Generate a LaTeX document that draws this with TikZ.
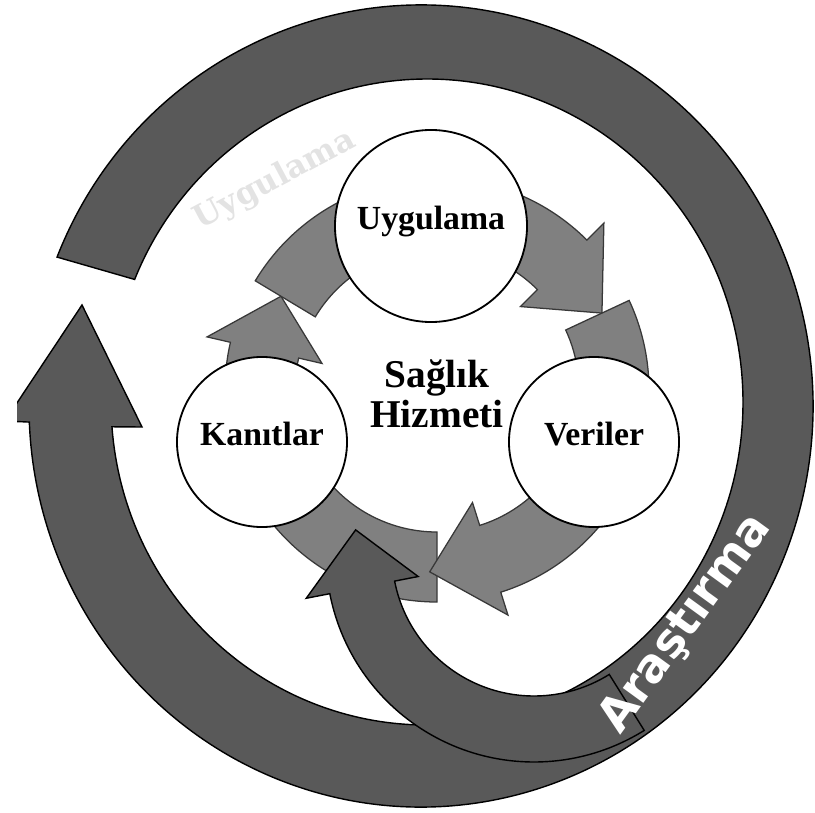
\documentclass[tikz,border=0pt]{standalone}
\usepackage{fontspec}
\setmainfont{Liberation Serif}
\newfontfamily\bandfont{DejaVu Sans}
\newfontfamily\ghostfont{DejaVu Serif}
\usepackage{xcolor}
\usetikzlibrary{calc}

\definecolor{ringgray}{HTML}{595959}
\definecolor{loopgray}{HTML}{808080}
\definecolor{edgegray}{HTML}{383838}

% curved block arrow round the scope origin
% #1 style, #2 tail angle, #3 head angle, #4 tip angle, #5 inner radius, #6 outer radius
\newcommand{\bentarrow}[6]{%
  \draw[#1] (#2:#6) arc[start angle=#2, end angle=#3, radius=#6]
    -- (#3:{#6+24}) -- (#4:{(#5+#6)/2+5}) -- (#3:{#5-24}) -- (#3:#5)
    arc[start angle=#3, end angle=#2, radius=#5] -- cycle;}

\begin{document}
\begin{tikzpicture}[x=0.025cm, y=0.025cm,
  stage/.style={circle, draw=black, line width=1.3pt, fill=white, minimum size=4.25cm,
    inner sep=0pt, text height=0.68em, text depth=0.22em,
    font=\fontsize{24}{24}\selectfont\bfseries},
  loopseg/.style={fill=loopgray, draw=edgegray, line width=0.9pt, line join=miter},
  ringarrow/.style={fill=ringgray, draw=black, line width=1pt, line join=miter}]
  \useasboundingbox (0,0) rectangle (815,812);

  % Outer ring (Arastirma)
  \begin{scope}
    \clip (17,0) rectangle (815,812);
    \draw[ringarrow] ([shift={(421,406)}]158.2:392 and 401)
      arc[start angle=158.2, end angle=-177.7, x radius=392, y radius=401]
      -- (5,391) -- (82,507) -- (142,385)
      -- ([shift={(427,410)}]-175.6:316 and 323)
      arc[start angle=-175.6, end angle=157.7, x radius=316, y radius=323] -- cycle;
  \end{scope}

  % Inner cycle arrows
  \begin{scope}[shift={(437,422)}]
    \bentarrow{loopseg}{-90}{-193}{-211}{142}{212}
    \bentarrow{loopseg}{149}{45}{25}{142}{212}
    \bentarrow{loopseg}{25}{-72.5}{-92.3}{142}{212}
  \end{scope}

  % Stages
  \node[stage, minimum size=4.8cm] (uyg) at (431,586) {Uygulama};
  \node[stage] (kan) at (262,370) {Kanıtlar};
  \node[stage] (ver) at (594,370) {Veriler};
  \node[align=center, inner sep=0pt, font=\fontsize{28}{28.3}\selectfont\bfseries] (hizmet) at (437,418) {Sağlık\\Hizmeti};

  % Research arrow into the cycle
  \begin{scope}[shift={(534,258)}]
    \bentarrow{ringarrow}{-58}{-169}{-187.7}{142}{208}
  \end{scope}

  % Labels
  \node[rotate=54, text=white, inner sep=0pt, font=\bandfont\bfseries\fontsize{33}{33}\selectfont] (arastirma) at (686,188) {Araştırma};
  \node[rotate=28, text=black!11, inner sep=0pt, font=\ghostfont\bfseries\fontsize{22.5}{22.5}\selectfont] (uygulamaiz) at (275,632) {Uygulama};
\end{tikzpicture}
\end{document}
